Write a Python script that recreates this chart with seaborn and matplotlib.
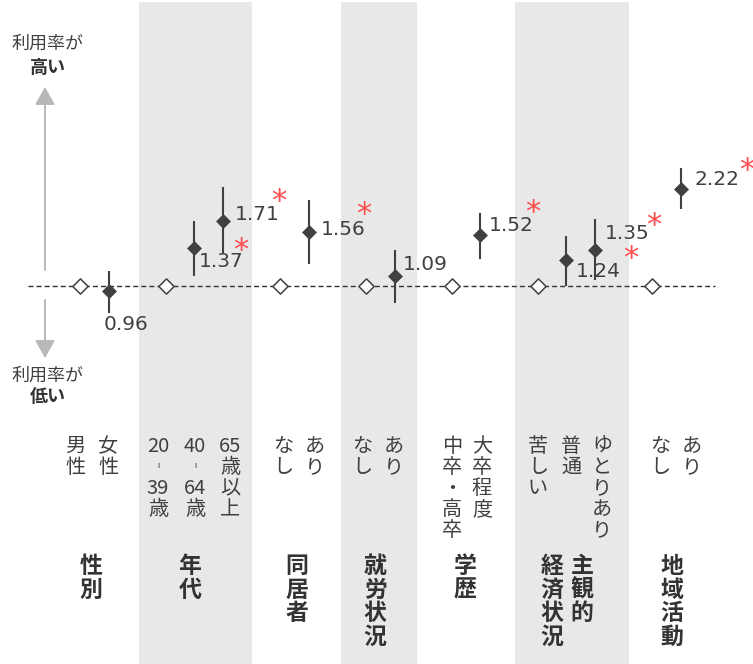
import re
import numpy as np
import pandas as pd
import matplotlib
matplotlib.use("Agg")
import matplotlib.pyplot as plt
import matplotlib.transforms as mtransforms
import seaborn as sns

# ---- data -------------------------------------------------------------
group_columns = [["性別"], ["年代"], ["同居者"], ["就労状況"], ["学歴"],
                 ["主観的", "経済状況"], ["地域活動"]]
levels = [
    ["男性", "女性"],
    ["20-39歳", "40-64歳", "65歳以上"],
    ["なし", "あり"],
    ["なし", "あり"],
    ["中卒・高卒", "大卒程度"],
    ["苦しい", "普通", "ゆとりあり"],
    ["なし", "あり"],
]
odds_ratio = [1.00, 0.96, 1.00, 1.37, 1.71, 1.00, 1.56, 1.00, 1.09,
              1.00, 1.52, 1.00, 1.24, 1.35, 1.00, 2.22]
ci_lower = [np.nan, 0.80, np.nan, 1.09, 1.31, np.nan, 1.20, np.nan, 0.87,
            np.nan, 1.25, np.nan, 1.00, 1.05, np.nan, 1.88]
ci_upper = [np.nan, 1.13, np.nan, 1.71, 2.25, np.nan, 2.03, np.nan, 1.35,
            np.nan, 1.83, np.nan, 1.51, 1.74, np.nan, 2.65]
significant = [False, False, False, True, True, False, True, False, False,
               False, True, False, True, True, False, True]

# ---- layout helpers -----------------------------------------------------
W, H = 753, 664
X0, SLOT = 80.0, 28.6          # pixel of slot 0, pixels per slot
LOG_PX = 121.5                 # pixels per natural-log unit
Y_REF = 286.0                  # pixel row of OR = 1


def px_x(px):
    return (px - X0) / SLOT


def py_fig(py):
    return 1 - py / H


rows = []
slot = 0
for g, labs in enumerate(levels):
    for j, lab in enumerate(labs):
        rows.append({"group": g, "level": lab, "x": slot, "ref": j == 0})
        slot += 1
    slot += 1
df = pd.DataFrame(rows)
df["or"] = odds_ratio
df["lo"] = ci_lower
df["hi"] = ci_upper
df["sig"] = significant

DARK = "#404040"
BAND = "#e8e8e8"
RED = "#ff4d4d"
ARROW = "#b8b8b8"

sns.set_theme(style="white")
plt.rcParams["font.family"] = ["Noto Sans CJK JP", "DejaVu Sans"]

fig = plt.figure(figsize=(W / 100, H / 100), dpi=100)
ax = fig.add_axes([0, 0, 1, 1])
ax.set_yscale("log")
ax.set_xlim(px_x(0), px_x(W))
ax.set_ylim(np.exp(-(H - Y_REF) / LOG_PX), np.exp(Y_REF / LOG_PX))
ax.axis("off")

# shaded group bands
for left, right in [(139, 251.7), (341, 416.7), (515, 629.3)]:
    ax.axvspan(px_x(left), px_x(right), ymin=0, ymax=py_fig(2),
               color=BAND, lw=0, zorder=0)

# reference line at OR = 1
ax.plot([px_x(28), px_x(715)], [1, 1], color="#333333", lw=1.0,
        dashes=(3.6, 2.2), zorder=1)

# confidence intervals
est = df[~df["ref"]]
ax.vlines(est["x"], est["lo"], est["hi"], color=DARK, lw=1.5, zorder=2)

# reference categories (open) and estimates (filled)
sns.scatterplot(data=df[df["ref"]], x="x", y="or", marker="D", s=60,
                facecolor="white", edgecolor=DARK, linewidth=1.1, ax=ax,
                zorder=3, legend=False)
sns.scatterplot(data=est, x="x", y="or", marker="D", s=58,
                color=DARK, edgecolor=DARK, linewidth=0, ax=ax,
                zorder=3, legend=False)

# value labels: (dx, dy) in pixels, screen-down positive
label_offsets = {1: (-5, 34), 3: (4, 14), 4: (12, -6), 6: (12, -2),
                 8: (8, -11), 10: (8, -10), 12: (10, 12), 13: (10, -16),
                 15: (14, -9.5)}
star_offsets = {3: (46, 0), 4: (56, -22), 6: (55, -20), 10: (52, -26),
                12: (65, -4), 13: (59, -27), 15: (66, -22)}
for i, r in est.iterrows():
    dx, dy = label_offsets[i]
    ax.annotate(f"{r['or']:.2f}", xy=(r["x"], r["or"]), xytext=(dx, -dy),
                textcoords="offset pixels", ha="left", va="center",
                fontsize=14.5, color=DARK, family="DejaVu Sans", zorder=4)
    if r["sig"]:
        sx, sy = star_offsets[i]
        ax.annotate("*", xy=(r["x"], r["or"]), xytext=(sx, -sy),
                    textcoords="offset pixels", ha="center", va="center_baseline",
                    fontsize=22, color=RED, family="DejaVu Sans", zorder=4)

# vertical category labels
blend = mtransforms.blended_transform_factory(ax.transData, fig.transFigure)


def vertical(s):
    parts = re.findall(r"\d+|.", s)
    return "\n".join("︲" if p == "-" else p for p in parts)


label_px = [75, 108, 158, 195, 230, 283, 315, 362, 394, 452, 482,
            538, 571, 602, 660, 692]
for px, lab in zip(label_px, df["level"]):
    ax.text(px_x(px), py_fig(436), vertical(lab), transform=blend,
            ha="center", va="top", fontsize=14.5, color=DARK,
            linespacing=1.0)

group_px = [[91], [190], [297], [375], [465], [582, 552], [672]]
for cols, pxs in zip(group_columns, group_px):
    for txt, px in zip(cols, pxs):
        ax.text(px_x(px), py_fig(555), "\n".join(txt), transform=blend,
                ha="center", va="top", fontsize=16.5, fontweight="bold",
                color="#333333", linespacing=1.03)

# direction arrows and captions
for tail, tip in [(270, 87), (300, 358)]:
    ax.annotate("", xy=(45, H - tip), xytext=(45, H - tail),
                xycoords="figure pixels", textcoords="figure pixels",
                arrowprops=dict(arrowstyle="-|>,head_length=10.8,head_width=6.1",
                                mutation_scale=1, color=ARROW, lw=1.4,
                                shrinkA=0, shrinkB=0))
for y1, y2, word in [(44, 67.5, "高い"), (376, 397, "低い")]:
    fig.text(48 / W, py_fig(y1), "利用率が", ha="center", va="center",
             fontsize=13, color=DARK)
    fig.text(48 / W, py_fig(y2), word, ha="center", va="center",
             fontsize=13, fontweight="bold", color="#333333")

fig.savefig("out.png", dpi=100)
